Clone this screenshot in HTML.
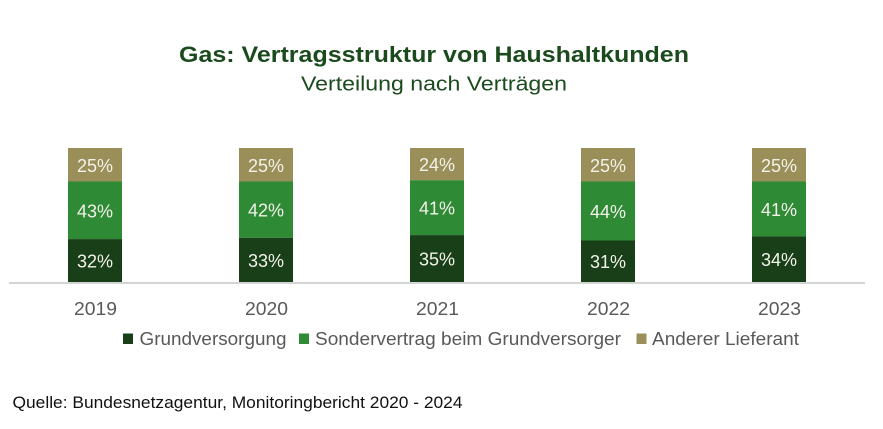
<!DOCTYPE html>
<html><head><meta charset="utf-8"><style>
html,body{margin:0;padding:0;background:#fff;}
svg{display:block;font-family:"Liberation Sans",sans-serif;}
</style></head><body>
<svg width="883" height="429" viewBox="0 0 883 429" xmlns="http://www.w3.org/2000/svg">
<rect width="883" height="429" fill="#fff"/>
<text x="434" y="62" text-anchor="middle" font-size="22.5" font-weight="bold" fill="#1b4a1d" textLength="510" lengthAdjust="spacingAndGlyphs">Gas: Vertragsstruktur von Haushaltkunden</text>
<text x="434" y="90.5" text-anchor="middle" font-size="20" fill="#1b4a1d" textLength="266" lengthAdjust="spacingAndGlyphs">Verteilung nach Verträgen</text>

<g>
<rect x="68" y="148" width="54" height="33.5" fill="#9b8f59"/>
<rect x="68" y="181.5" width="54" height="57.6" fill="#2f8a35"/>
<rect x="68" y="239.1" width="54" height="42.9" fill="#183f17"/>
<rect x="239" y="148" width="54" height="33.5" fill="#9b8f59"/>
<rect x="239" y="181.5" width="54" height="56.3" fill="#2f8a35"/>
<rect x="239" y="237.8" width="54" height="44.2" fill="#183f17"/>
<rect x="410" y="148" width="54" height="32.2" fill="#9b8f59"/>
<rect x="410" y="180.2" width="54" height="54.9" fill="#2f8a35"/>
<rect x="410" y="235.1" width="54" height="46.9" fill="#183f17"/>
<rect x="581" y="148" width="54" height="33.5" fill="#9b8f59"/>
<rect x="581" y="181.5" width="54" height="59" fill="#2f8a35"/>
<rect x="581" y="240.5" width="54" height="41.5" fill="#183f17"/>
<rect x="752" y="148" width="54" height="33.5" fill="#9b8f59"/>
<rect x="752" y="181.5" width="54" height="54.9" fill="#2f8a35"/>
<rect x="752" y="236.4" width="54" height="45.6" fill="#183f17"/>
</g>

<rect x="9" y="282" width="856" height="2" fill="#d4d4d4"/>

<g font-size="18" fill="#f2f2ea" text-anchor="middle">
<text x="95" y="171.8">25%</text>
<text x="95" y="217.3">43%</text>
<text x="95" y="267.5">32%</text>
<text x="266" y="171.8">25%</text>
<text x="266" y="216.6">42%</text>
<text x="266" y="266.9">33%</text>
<text x="437" y="171.1">24%</text>
<text x="437" y="214.6">41%</text>
<text x="437" y="265.5">35%</text>
<text x="608" y="171.8">25%</text>
<text x="608" y="218">44%</text>
<text x="608" y="268.2">31%</text>
<text x="779" y="171.8">25%</text>
<text x="779" y="216">41%</text>
<text x="779" y="266.2">34%</text>
</g>

<g font-size="18" fill="#595959" text-anchor="middle">
<text x="95.5" y="315" textLength="43" lengthAdjust="spacingAndGlyphs">2019</text>
<text x="266.5" y="315" textLength="43" lengthAdjust="spacingAndGlyphs">2020</text>
<text x="437.5" y="315" textLength="43" lengthAdjust="spacingAndGlyphs">2021</text>
<text x="608.5" y="315" textLength="43" lengthAdjust="spacingAndGlyphs">2022</text>
<text x="779.5" y="315" textLength="43" lengthAdjust="spacingAndGlyphs">2023</text>
</g>

<g font-size="18" fill="#595959">
<rect x="123" y="333.5" width="10" height="10.5" fill="#183f17"/>
<text x="139.5" y="345" textLength="147" lengthAdjust="spacingAndGlyphs">Grundversorgung</text>
<rect x="299" y="333.5" width="10" height="10.5" fill="#2f8a35"/>
<text x="315" y="345" textLength="306" lengthAdjust="spacingAndGlyphs">Sondervertrag beim Grundversorger</text>
<rect x="636.5" y="333.5" width="10" height="10.5" fill="#9b8f59"/>
<text x="652" y="345" textLength="147" lengthAdjust="spacingAndGlyphs">Anderer Lieferant</text>
</g>

<text x="12.5" y="408" font-size="16.5" fill="#111" textLength="450" lengthAdjust="spacingAndGlyphs">Quelle: Bundesnetzagentur, Monitoringbericht 2020 - 2024</text>
</svg>
</body></html>
